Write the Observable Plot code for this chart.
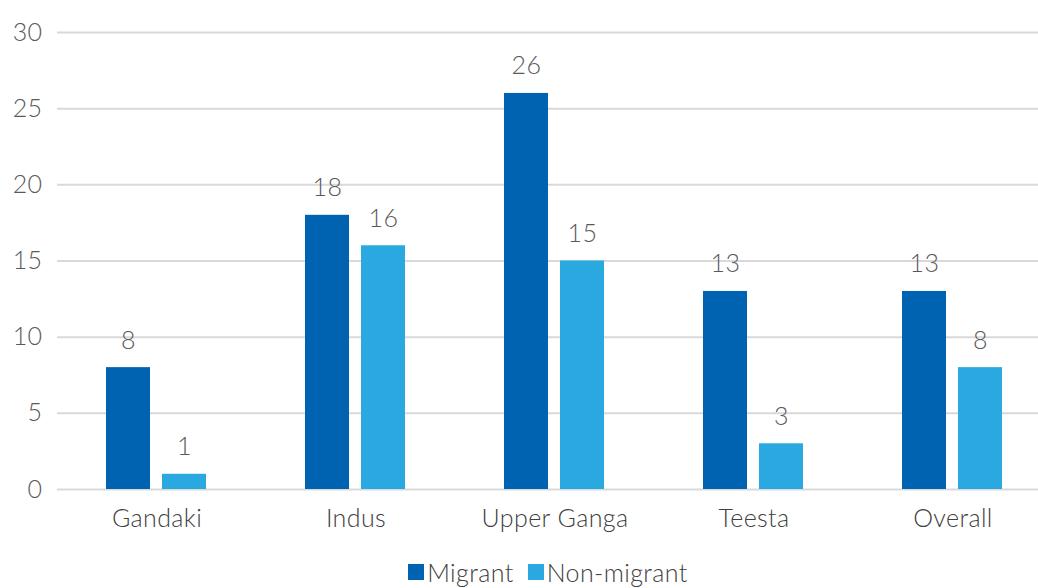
<!DOCTYPE html>
<html>
<head>
<meta charset="utf-8">
<script src="https://cdn.jsdelivr.net/npm/d3@7"></script>
<script src="https://cdn.jsdelivr.net/npm/@observablehq/plot@0.6"></script>
<style>
  html, body { margin: 0; padding: 0; background: #fff; }
  body { width: 1038px; height: 588px; overflow: hidden; font-family: "Lato", "DejaVu Sans", sans-serif; font-weight: 300; }
  #chart { width: 1038px; height: 555px; overflow: hidden; }
  #chart svg { max-width: none !important; width: 1052px; height: 555px; }
  #legend { display: flex; justify-content: center; align-items: center; gap: 14px; font-size: 25px; color: #404040; height: 33px; margin-left: 58px; letter-spacing: 0.4px; }
  #legend .item { display: flex; align-items: center; gap: 3px; }
  #legend .sw { width: 16px; height: 16px; display: inline-block; }
</style>
</head>
<body>
<div id="chart"></div>
<div id="legend"></div>
<script>
const categories = ["Gandaki", "Indus", "Upper Ganga", "Teesta", "Overall"];
const seriesNames = ["Migrant", "Non-migrant"];
const migrant = [8, 18, 26, 13, 13];
const nonMigrant = [1, 16, 15, 3, 8];
const colors = ["#0063B1", "#29A9E0"];
const yTicks = [0, 5, 10, 15, 20, 25, 30];

const data = [];
categories.forEach((c, i) => {
  data.push({category: c, series: seriesNames[0], value: migrant[i]});
  data.push({category: c, series: seriesNames[1], value: nonMigrant[i]});
});

const chart = Plot.plot({
  width: 1052,
  height: 555,
  marginTop: 32,
  marginBottom: 66,
  marginLeft: 57,
  marginRight: 0,
  style: {fontFamily: "Lato, 'DejaVu Sans', sans-serif", fontSize: "25px", fontWeight: 300, color: "#595959", background: "#fff", letterSpacing: "0.4px"},
  fx: {domain: categories, padding: 0, label: null},
  x: {domain: seriesNames, paddingInner: 0.21, paddingOuter: 0.87, axis: null},
  y: {domain: [0, 30], ticks: yTicks, label: null},
  color: {domain: seriesNames, range: colors},
  marks: [
    Plot.gridY(yTicks, {stroke: "#d9d9d9", strokeOpacity: 1, strokeWidth: 2, facetAnchor: null}),
    Plot.axisY(yTicks, {tickSize: 0, tickPadding: 15, label: null, fontSize: 25, fill: "#595959", anchor: "left"}),
    Plot.axisFx({anchor: "bottom", tickSize: 0, tickPadding: 20, label: null, fontSize: 25, fill: "#404040"}),
    Plot.barY(data, {fx: "category", x: "series", y: "value", fill: "series"}),
    Plot.text(data, {fx: "category", x: "series", y: "value", text: d => String(d.value), dy: -27, fontSize: 25, fill: "#595959"})
  ]
});
document.getElementById("chart").appendChild(chart);

const legend = document.getElementById("legend");
legend.style.width = "980px";
seriesNames.forEach((s, i) => {
  const item = document.createElement("span");
  item.className = "item";
  const sw = document.createElement("span");
  sw.className = "sw";
  sw.style.background = colors[i];
  item.appendChild(sw);
  item.appendChild(document.createTextNode(s));
  legend.appendChild(item);
});
</script>
</body>
</html>
